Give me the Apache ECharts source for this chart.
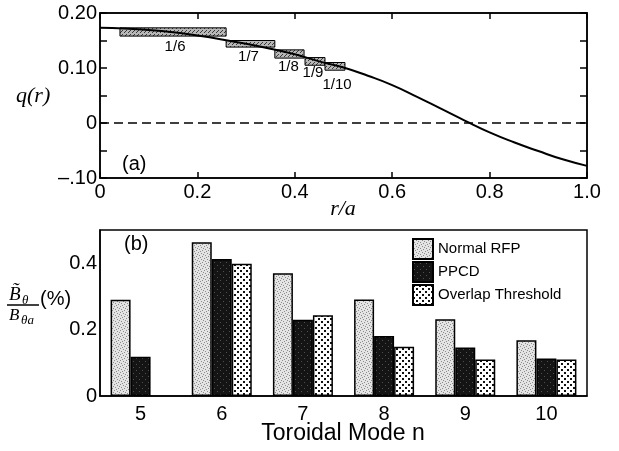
<!DOCTYPE html>
<html><head><meta charset="utf-8">
<script src="https://cdn.jsdelivr.net/npm/echarts@6/dist/echarts.min.js"></script>
<style>html,body{margin:0;padding:0;background:#fff}#c{width:619px;height:451px}</style>
</head><body><div id="c"></div>
<script>
// ---- Panel (a): q profile ----
const rVals = [0,0.05,0.1,0.15,0.2,0.25,0.3,0.35,0.4,0.45,0.5,0.55,0.6,0.65,0.7,0.75,0.8,0.85,0.9,0.95,1.0];
const qVals = [0.173,0.172,0.169,0.165,0.159,0.152,0.144,0.135,0.125,0.112,0.101,0.086,0.069,0.048,0.026,0.004,-0.017,-0.035,-0.051,-0.066,-0.078];
const islandLabels = ['1/6','1/7','1/8','1/9','1/10'];
const islandR0 = [0.041,0.259,0.359,0.421,0.462];
const islandR1 = [0.259,0.359,0.419,0.462,0.503];
const islandQ0 = [0.158,0.138,0.118,0.105,0.096];
const islandQ1 = [0.173,0.150,0.133,0.119,0.110];
// ---- Panel (b): mode amplitudes ----
const modes = ['5','6','7','8','9','10'];
const normalRFP = [0.29,0.463,0.37,0.291,0.231,0.168];
const ppcd = [0.118,0.413,0.23,0.181,0.146,0.113];
const overlap = [null,0.398,0.243,0.148,0.11,0.11];

const labelDy = [11,10,9,8,15];
const labelDx = [2,-2,-1,-2,2];

function makePattern(size, bg, dots, dotColor, ds){
  const c=document.createElement('canvas'); c.width=c.height=size;
  const g=c.getContext('2d'); g.fillStyle=bg; g.fillRect(0,0,size,size);
  g.fillStyle=dotColor; dots.forEach(([x,y])=>g.fillRect(x,y,ds||1,ds||1));
  return {image:c, repeat:'repeat'};
}
const normalPat = makePattern(6,'#e4e4e4',[[0,0],[3,1],[1,3],[4,4],[2,5],[5,2]],'#8c8c8c');
const ppcdPat = makePattern(6,'#141414',[[1,1],[4,4]],'#505050');
const overlapPat = makePattern(6,'#ffffff',[[0,0],[3,3]],'#111',2);
const boxPat = makePattern(4,'#b8b8b8',[[0,0],[2,2],[1,3]],'#3a3a3a');

const FONT = '"Liberation Sans", Arial, sans-serif';
const SERIF = '"Liberation Serif", "Times New Roman", serif';

const islandData = islandLabels.map((l,i)=>[islandR0[i],islandQ0[i],islandR1[i],islandQ1[i]]);

const chart = echarts.init(document.getElementById('c'));
const axisLine = {show:true, onZero:false, lineStyle:{color:'#000', width:1.5}};
const fmtA = v => { const k=Math.round(v*100); if(k===0) return '0'; if(k===20) return '0.20'; if(k===10) return '0.10'; if(k===-10) return '\u2013.10'; return ''; };
const fmtB = v => { const k=Math.round(v*10); if(k===0) return '0'; if(k===2||k===4) return (k/10).toFixed(1); return ''; };

chart.setOption({
  animation:false,
  grid:[
    {left:100, top:13, width:487, height:165, show:true, borderColor:'#000', borderWidth:1.5},
    {left:100, top:230, width:487, height:166, show:true, borderColor:'#000', borderWidth:1.5}
  ],
  xAxis:[
    {type:'value', gridIndex:0, min:0, max:1, interval:0.2, position:'bottom',
     axisLine, axisTick:{inside:true, length:6, lineStyle:{color:'#000', width:1.5}},
     axisLabel:{margin:4, fontSize:20, fontFamily:FONT, color:'#000', formatter: v => v===0?'0':v.toFixed(1)},
     splitLine:{show:false}},
    {type:'value', gridIndex:0, min:0, max:1, interval:0.2, position:'top',
     axisLine, axisTick:{inside:true, length:6, lineStyle:{color:'#000', width:1.5}},
     axisLabel:{show:false}, splitLine:{show:false}},
    {type:'category', gridIndex:1, data:modes, position:'bottom',
     axisLine, axisTick:{show:false},
     axisLabel:{margin:8, fontSize:20, fontFamily:FONT, color:'#000'}, splitLine:{show:false}}
  ],
  yAxis:[
    {type:'value', gridIndex:0, min:-0.1, max:0.2, interval:0.1, position:'left',
     axisLine, axisTick:{inside:true, length:7, lineStyle:{color:'#000', width:1.5}},
     minorTick:{show:true, splitNumber:2, length:7, lineStyle:{color:'#000', width:1.5}},
     axisLabel:{margin:3, fontSize:20, fontFamily:FONT, color:'#000', formatter:fmtA},
     splitLine:{show:false}},
    {type:'value', gridIndex:0, min:-0.1, max:0.2, interval:0.1, position:'right',
     axisLine, axisTick:{inside:true, length:7, lineStyle:{color:'#000', width:1.5}},
     minorTick:{show:true, splitNumber:2, length:7, lineStyle:{color:'#000', width:1.5}},
     axisLabel:{show:false}, splitLine:{show:false}},
    {type:'value', gridIndex:1, min:0, max:0.5, interval:0.1, position:'left',
     axisLine, axisTick:{inside:true, length:7, lineStyle:{color:'#000', width:1.5}},
     axisLabel:{margin:3, fontSize:20, fontFamily:FONT, color:'#000', formatter:fmtB},
     splitLine:{show:false}}
  ],
  legend:{
    left:412, top:238, orient:'vertical', padding:0, itemGap:1, itemWidth:20, itemHeight:20,
    icon:'rect', textStyle:{fontSize:15, fontFamily:FONT, color:'#000'},
    data:['Normal RFP','PPCD','Overlap Threshold']
  },
  series:[
    {type:'custom', xAxisIndex:0, yAxisIndex:0, z:2, silent:true,
     encode:{x:[0,2], y:[1,3]},
     data: islandData,
     renderItem:(params, api)=>{
       const i = params.dataIndex;
       const p0 = api.coord([api.value(0), api.value(3)]);
       const p1 = api.coord([api.value(2), api.value(1)]);
       return {type:'group', children:[
         {type:'rect', shape:{x:p0[0], y:p0[1], width:p1[0]-p0[0], height:p1[1]-p0[1]},
          style:{fill:boxPat, stroke:'#000', lineWidth:1}},
         {type:'text', style:{text:islandLabels[i], x:(p0[0]+p1[0])/2+labelDx[i], y:p1[1]+labelDy[i],
          align:'center', verticalAlign:'middle', textAlign:'center', textVerticalAlign:'middle',
          font:'15px '+FONT, fill:'#000'}}
       ]};
     }},
    {type:'line', xAxisIndex:0, yAxisIndex:0, z:3, silent:true, smooth:true, symbol:'none',
     data: rVals.map((r,i)=>[r,qVals[i]]),
     lineStyle:{color:'#000', width:2},
     markLine:{silent:true, symbol:['none','none'], label:{show:false},
       lineStyle:{color:'#000', width:1.5, type:[9,5]}, data:[{yAxis:0}]}},
    {type:'bar', name:'Normal RFP', xAxisIndex:2, yAxisIndex:2, data:normalRFP, barWidth:20, barGap:'0%',
     itemStyle:{color:normalPat, borderColor:'#000', borderWidth:1.5}},
    {type:'bar', name:'PPCD', xAxisIndex:2, yAxisIndex:2, data:ppcd, barWidth:20, barGap:'0%',
     itemStyle:{color:ppcdPat, borderColor:'#000', borderWidth:1.5}},
    {type:'bar', name:'Overlap Threshold', xAxisIndex:2, yAxisIndex:2, data:overlap, barWidth:20, barGap:'0%',
     itemStyle:{color:overlapPat, borderColor:'#000', borderWidth:1.5}}
  ],
  graphic:[
    {type:'text', x:16, y:85, style:{text:'q(r)', font:'italic 22px '+SERIF, fill:'#000'}},
    {type:'text', x:122, y:154, style:{text:'(a)', font:'20px '+FONT, fill:'#000'}},
    {type:'text', x:343, y:198, style:{text:'r/a', font:'italic 22px '+SERIF, fill:'#000', align:'center', textAlign:'center'}},
    {type:'text', x:124, y:234, style:{text:'(b)', font:'20px '+FONT, fill:'#000'}},
    {type:'text', x:343, y:422, style:{text:'Toroidal Mode n', font:'23px '+FONT, fill:'#000', align:'center', textAlign:'center'}},
    {type:'text', x:9, y:285, style:{text:'B\u0303', font:'italic 19px '+SERIF, fill:'#000'}},
    {type:'text', x:22, y:294, style:{text:'\u03b8', font:'italic 13px '+SERIF, fill:'#000'}},
    {type:'line', shape:{x1:7, y1:305, x2:39, y2:305}, style:{stroke:'#000', lineWidth:1.5}},
    {type:'text', x:9, y:307, style:{text:'B', font:'italic 17px '+SERIF, fill:'#000'}},
    {type:'text', x:21, y:314, style:{text:'\u03b8a', font:'italic 13px '+SERIF, fill:'#000'}},
    {type:'text', x:40, y:289, style:{text:'(%)', font:'20px '+FONT, fill:'#000'}}
  ]
});
</script></body></html>
